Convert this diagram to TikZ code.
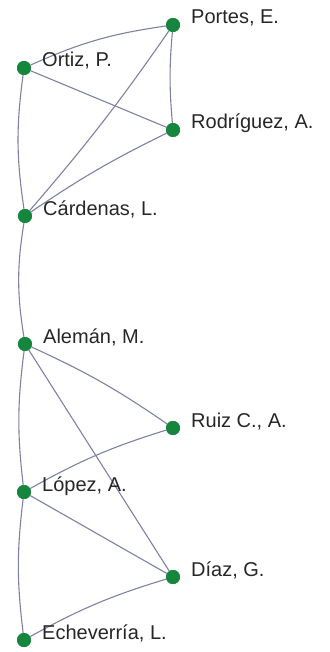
\documentclass[tikz,border=0pt]{standalone}
\usepackage{fontspec}
\setmainfont{Liberation Sans}
\usetikzlibrary{positioning}
\definecolor{nodegreen}{RGB}{22,134,62}
\definecolor{edgegray}{RGB}{128,128,165}

\begin{document}
\begin{tikzpicture}[x=1pt, y=-1pt,
    author/.style={circle, fill=nodegreen, minimum size=14pt, inner sep=0pt},
    authorname/.style={anchor=base west, inner sep=0pt, font=\fontsize{20}{24}\selectfont, text=black!85},
    link/.style={draw=edgegray, line width=1.1pt}]
  \useasboundingbox (0,0) rectangle (329,652);
  % authors
  \node[author] (portes) at (173,25) {};
  \node[author] (ortiz) at (24,68) {};
  \node[author] (rodriguez) at (173,130) {};
  \node[author] (cardenas) at (25,216) {};
  \node[author] (aleman) at (25,344) {};
  \node[author] (ruiz) at (173,428) {};
  \node[author] (lopez) at (24,492) {};
  \node[author] (diaz) at (173,577) {};
  \node[author] (echeverria) at (24,640) {};
  % links
  \draw[link] (ortiz) to[bend left=8] (portes);
  \draw[link] (portes) to[bend right=5] (rodriguez);
  \draw[link] (ortiz) -- (rodriguez);
  \draw[link] (cardenas) to[bend right=3] (portes);
  \draw[link] (cardenas) to[bend left=4] (rodriguez);
  \draw[link] (ortiz) to[bend right=8] (cardenas);
  \draw[link] (cardenas) to[bend right=9] (aleman);
  \draw[link] (aleman) to[bend left=5] (ruiz);
  \draw[link] (aleman) -- (diaz);
  \draw[link] (aleman) to[bend right=7] (lopez);
  \draw[link] (lopez) to[bend left=6] (ruiz);
  \draw[link] (lopez) -- (diaz);
  \draw[link] (lopez) to[bend right=7] (echeverria);
  \draw[link] (echeverria) to[bend left=6] (diaz);
  % redraw dots above the links
  \foreach \a in {portes,ortiz,rodriguez,cardenas,aleman,ruiz,lopez,diaz,echeverria}
    \fill[nodegreen] (\a) circle (7pt);
  % names
  \node[authorname] (portes-n) at ([xshift=18pt,yshift=1pt]portes.center) {Portes, E.};
  \node[authorname] (ortiz-n) at ([xshift=18pt,yshift=1pt]ortiz.center) {Ortiz, P.};
  \node[authorname] (rodriguez-n) at ([xshift=18pt,yshift=1pt]rodriguez.center) {Rodríguez, A.};
  \node[authorname] (cardenas-n) at ([xshift=18pt,yshift=1pt]cardenas.center) {Cárdenas, L.};
  \node[authorname] (aleman-n) at ([xshift=18pt,yshift=1pt]aleman.center) {Alemán, M.};
  \node[authorname] (ruiz-n) at ([xshift=18pt,yshift=1pt]ruiz.center) {Ruiz C., A.};
  \node[authorname] (lopez-n) at ([xshift=18pt,yshift=1pt]lopez.center) {López, A.};
  \node[authorname] (diaz-n) at ([xshift=18pt,yshift=1pt]diaz.center) {Díaz, G.};
  \node[authorname] (echeverria-n) at ([xshift=18pt,yshift=1pt]echeverria.center) {Echeverría, L.};
\end{tikzpicture}
\end{document}
